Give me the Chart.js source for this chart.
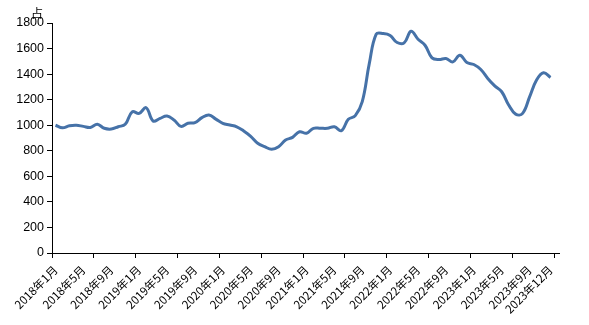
<!DOCTYPE html>
<html>
<head>
<meta charset="utf-8">
<script src="https://cdn.jsdelivr.net/npm/chart.js@4.4.1/dist/chart.umd.min.js"></script>
<style>
  body { margin: 0; background: #fff; }
  #wrap { width: 589px; height: 325px; }
</style>
</head>
<body>
<div id="wrap"><canvas id="chartLine"></canvas></div>
<script>
// Data
const years = [2018, 2019, 2020, 2021, 2022, 2023];
const months = [1, 2, 3, 4, 5, 6, 7, 8, 9, 10, 11, 12];
const unitLabel = "占";

const values = [
  1000, 980, 996, 1000, 991, 983, 1007, 976, 970, 988, 1007, 1105,
  1093, 1137, 1033, 1054, 1072, 1041, 991, 1015, 1020, 1059, 1080, 1048,
  1015, 1002, 988, 955, 913, 859, 832, 812, 832, 884, 905, 949,
  937, 976, 976, 976, 988, 957, 1046, 1075, 1185, 1480, 1712, 1717,
  1702, 1647, 1644, 1735, 1673, 1626, 1527, 1514, 1522, 1496, 1548, 1491,
  1475, 1436, 1366, 1308, 1262, 1158, 1087, 1093, 1222, 1353, 1410, 1374,
];

const labels = [];
years.forEach((y) => months.forEach((m) => labels.push(y + "年" + m + "月")));

const lastIndex = labels.length - 1;

// Unit label above the y axis + small overhang of the x axis line
const extras = {
  id: "extras",
  afterDraw(chart) {
    const { ctx, chartArea, scales } = chart;
    ctx.save();
    ctx.fillStyle = "#000";
    ctx.font = "12px 'Noto Sans CJK SC'";
    ctx.textAlign = "center";
    ctx.textBaseline = "middle";
    ctx.fillText(unitLabel, scales.y.right - 15, chartArea.top - 10);
    ctx.strokeStyle = "#000";
    ctx.lineWidth = 1;
    ctx.beginPath();
    ctx.moveTo(chartArea.right, chartArea.bottom + 0.5);
    ctx.lineTo(chartArea.right + 6, chartArea.bottom + 0.5);
    ctx.stroke();
    ctx.restore();
  },
};

const ctxLine = document.getElementById("chartLine").getContext("2d");

new Chart(ctxLine, {
  type: "line",
  data: {
    labels: labels,
    datasets: [
      {
        data: values,
        borderColor: "#4672a8",
        borderWidth: 3,
        tension: 0.4,
        pointRadius: 0,
        fill: false,
      },
    ],
  },
  options: {
    responsive: true,
    maintainAspectRatio: false,
    animation: false,
    layout: {
      padding: { top: 23, right: 35, left: 0, bottom: 0 },
    },
    plugins: {
      legend: { display: false },
      tooltip: { enabled: false },
    },
    scales: {
      x: {
        offset: true,
        afterFit: (scale) => {
          scale.height = 72;
        },
        border: { color: "#000", width: 1 },
        grid: {
          offset: true,
          drawOnChartArea: false,
          tickLength: 5,
          color: (c) =>
            c.index === undefined || c.index % 6 === 0 ? "#000" : "rgba(0,0,0,0)",
        },
        ticks: {
          autoSkip: false,
          minRotation: 45,
          maxRotation: 45,
          padding: 5,
          color: "#000",
          font: { family: "'Noto Sans CJK SC'", size: 11.5 },
          callback: function (value, index) {
            return index % 4 === 0 || index === lastIndex ? this.getLabelForValue(value) : "";
          },
        },
      },
      y: {
        min: 0,
        max: 1800,
        afterFit: (scale) => {
          scale.width = 52;
        },
        border: { color: "#000", width: 1 },
        grid: {
          drawOnChartArea: false,
          tickLength: 5,
          color: "#000",
        },
        ticks: {
          stepSize: 200,
          padding: 3,
          color: "#000",
          font: { family: "'Liberation Sans', Arial", size: 12.5 },
          callback: (value) => String(value),
        },
      },
    },
  },
  plugins: [extras],
});
</script>
</body>
</html>
